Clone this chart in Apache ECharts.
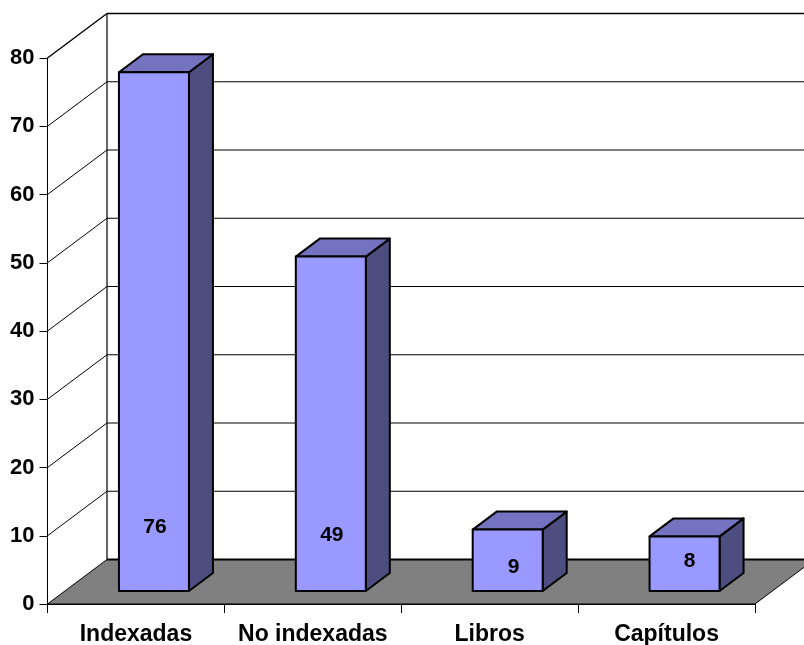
<!DOCTYPE html>
<html>
<head>
<meta charset="utf-8">
<style>html,body{margin:0;padding:0;background:#fff}#c{width:804px;height:645px}</style>
<script src="https://cdn.jsdelivr.net/npm/echarts@6/dist/echarts.min.js"></script>
</head>
<body>
<div id="c"></div>
<script>
const categories = ['Indexadas', 'No indexadas', 'Libros', 'Capítulos'];
const values = [76, 49, 9, 8];
const yTicks = [0, 10, 20, 30, 40, 50, 60, 70, 80];

// 3D look: depth of the chart box and of each bar, in pixels
const WALL = [59.5, -44.5];
const BAR_BASE = [18, -13];
const BAR_DEPTH = [24, -18];
const BAR_HALF = 35;
// where each value label sits, relative to the foot of the bar's front face
const labelShift = [[1, -64], [1, -56], [6, -24], [5, -30]];

const FONT = '"Liberation Sans", Arial, sans-serif';
const FRONT = '#9999FF', TOP = '#7373BF', SIDE = '#4D4D80', FLOOR = '#808080';

function poly(points, fill, lw) {
  return { type: 'polygon', shape: { points }, style: { fill, stroke: '#000', lineWidth: lw, lineJoin: 'round' } };
}
function line(a, b, lw) {
  return { type: 'line', shape: { x1: a[0], y1: a[1], x2: b[0], y2: b[1] }, style: { stroke: '#000', lineWidth: lw } };
}

function renderFrame(params, api) {
  const v = api.value(1);
  const cs = params.coordSys;
  const y = api.coord([0, v])[1];
  const a = [cs.x, y];
  const b = [cs.x + WALL[0], y + WALL[1]];
  const right = [cs.x + cs.width + WALL[0], y + WALL[1]];
  const children = [];
  if (v === 0) {
    children.push({
      type: 'polygon',
      shape: { points: [a, [cs.x + cs.width, y], right, b] },
      style: { fill: FLOOR, stroke: '#000', lineWidth: 1 }
    });
    children.push(line(b, right, 2));
    const top = api.coord([0, 80])[1] + WALL[1];
    children.push(line(b, [b[0], top], 1.2));
  } else {
    children.push(line(a, b, v === 80 ? 1.4 : 1));
    children.push(line(b, right, v === 80 ? 1.4 : 1));
  }
  return { type: 'group', children };
}

function renderBar(params, api) {
  const i = api.value(0);
  const v = api.value(1);
  const foot = api.coord([i, 0]);
  const head = api.coord([i, v]);
  const cx = foot[0] + BAR_BASE[0];
  const l = cx - BAR_HALF, r = cx + BAR_HALF;
  const b = foot[1] + BAR_BASE[1], t = head[1] + BAR_BASE[1];
  const dx = BAR_DEPTH[0], dy = BAR_DEPTH[1];
  return {
    type: 'group',
    children: [
      poly([[r, t], [r + dx, t + dy], [r + dx, b + dy], [r, b]], SIDE, 2),
      poly([[l, t], [l + dx, t + dy], [r + dx, t + dy], [r, t]], TOP, 2),
      poly([[l, t], [r, t], [r, b], [l, b]], FRONT, 2),
      {
        type: 'text',
        style: {
          x: cx + labelShift[i][0], y: b + labelShift[i][1],
          text: String(v), fill: '#000',
          font: 'bold 21px ' + FONT, align: 'center', verticalAlign: 'middle'
        }
      }
    ]
  };
}

const chart = echarts.init(document.getElementById('c'), null, { renderer: 'canvas', width: 804, height: 645 });
chart.setOption({
  animation: false,
  backgroundColor: '#fff',
  grid: { left: 47.5, top: 58, width: 707.5, height: 546, outerBoundsMode: 'none' },
  xAxis: {
    type: 'category',
    data: categories,
    axisLine: { show: true, lineStyle: { color: '#000', width: 1 } },
    axisTick: { show: true, length: 9, lineStyle: { color: '#000', width: 1 } },
    axisLabel: { color: '#000', fontFamily: FONT, fontWeight: 'bold', fontSize: 23, margin: 19, interval: 0 }
  },
  yAxis: {
    type: 'value', min: 0, max: 80, interval: 10,
    axisLine: { show: true, lineStyle: { color: '#000', width: 1 } },
    axisTick: { show: true, length: 8, lineStyle: { color: '#000', width: 1 } },
    axisLabel: { color: '#000', fontFamily: FONT, fontWeight: 'bold', fontSize: 22, margin: 13 },
    splitLine: { show: false }
  },
  series: [
    {
      type: 'custom', clip: false, silent: true, z: 1,
      renderItem: renderFrame,
      encode: { x: 0, y: 1 },
      data: yTicks.map(t => [0, t])
    },
    {
      type: 'custom', clip: false, silent: true, z: 3,
      renderItem: renderBar,
      encode: { x: 0, y: 1 },
      data: values.map((v, i) => [i, v])
    }
  ]
});
</script>
</body>
</html>
